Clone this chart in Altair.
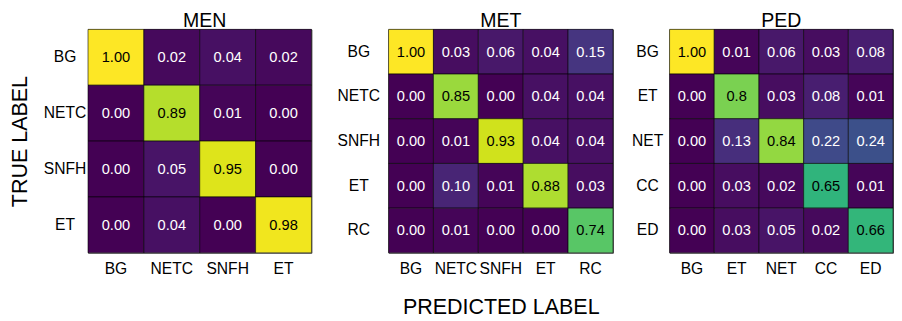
import altair as alt
import pandas as pd

FONT = "Liberation Sans"

men_labels = ["BG", "NETC", "SNFH", "ET"]
men_values = [
    ["1.00", "0.02", "0.04", "0.02"],
    ["0.00", "0.89", "0.01", "0.00"],
    ["0.00", "0.05", "0.95", "0.00"],
    ["0.00", "0.04", "0.00", "0.98"],
]

met_labels = ["BG", "NETC", "SNFH", "ET", "RC"]
met_values = [
    ["1.00", "0.03", "0.06", "0.04", "0.15"],
    ["0.00", "0.85", "0.00", "0.04", "0.04"],
    ["0.00", "0.01", "0.93", "0.04", "0.04"],
    ["0.00", "0.10", "0.01", "0.88", "0.03"],
    ["0.00", "0.01", "0.00", "0.00", "0.74"],
]

ped_labels = ["BG", "ET", "NET", "CC", "ED"]
ped_values = [
    ["1.00", "0.01", "0.06", "0.03", "0.08"],
    ["0.00", "0.8", "0.03", "0.08", "0.01"],
    ["0.00", "0.13", "0.84", "0.22", "0.24"],
    ["0.00", "0.03", "0.02", "0.65", "0.01"],
    ["0.00", "0.03", "0.05", "0.02", "0.66"],
]


def panel(name, labels, values, width, height, ypad, ytitle=None, xtitle=None, tdx=0):
    rows = []
    for i, t in enumerate(labels):
        for j, p in enumerate(labels):
            s = values[i][j]
            rows.append({"true": t, "pred": p, "value": float(s), "txt": s})
    df = pd.DataFrame(rows)
    xaxis = alt.Axis(
        title=xtitle if xtitle else None,
        labelAngle=0, labelPadding=8, labelFontSize=16, labelFont=FONT,
        labelColor="black", ticks=False, tickSize=0, domain=False, grid=False,
        titleFontSize=22, titleFontWeight="normal", titleFont=FONT,
        titleColor="black", titlePadding=21,
    )
    yaxis = alt.Axis(
        title=ytitle if ytitle else None,
        labelAlign="center", labelPadding=ypad, labelFontSize=16, labelFont=FONT,
        labelColor="black", ticks=False, tickSize=0, domain=False, grid=False,
        titleFontSize=22, titleFontWeight="normal", titleFont=FONT,
        titleColor="black", titlePadding=12,
    )
    base = alt.Chart(df).encode(
        x=alt.X("pred:N", sort=labels, axis=xaxis),
        y=alt.Y("true:N", sort=labels, axis=yaxis),
    )
    rect = base.mark_rect(stroke="black", strokeWidth=0.6).encode(
        color=alt.Color("value:Q", scale=alt.Scale(scheme="viridis", domain=[0, 1]), legend=None)
    )
    text = base.mark_text(fontSize=15, font=FONT).encode(
        text="txt:N",
        color=alt.condition(alt.datum.value > 0.5, alt.value("black"), alt.value("white")),
    )
    return alt.layer(rect, text).properties(
        width=width, height=height,
        title=alt.TitleParams(name, fontSize=20, fontWeight="normal", font=FONT,
                              color="black", offset=0, anchor="middle", dx=tdx, dy=2),
    )


men = panel("MEN", men_labels, men_values, 229, 229, 24, ytitle="TRUE LABEL", tdx=5)
met = panel("MET", met_labels, met_values, 230, 229, 31, xtitle="PREDICTED LABEL")
ped = panel("PED", ped_labels, ped_values, 229, 229, 23)

chart = alt.hconcat(alt.hconcat(men, met, spacing=24), ped, spacing=17).properties(
    padding={"left": 0, "top": -1, "right": 0, "bottom": 0}
).configure_view(stroke="#555", strokeWidth=1)

chart.save("out.html", embed_options={"renderer": "svg", "actions": False})
